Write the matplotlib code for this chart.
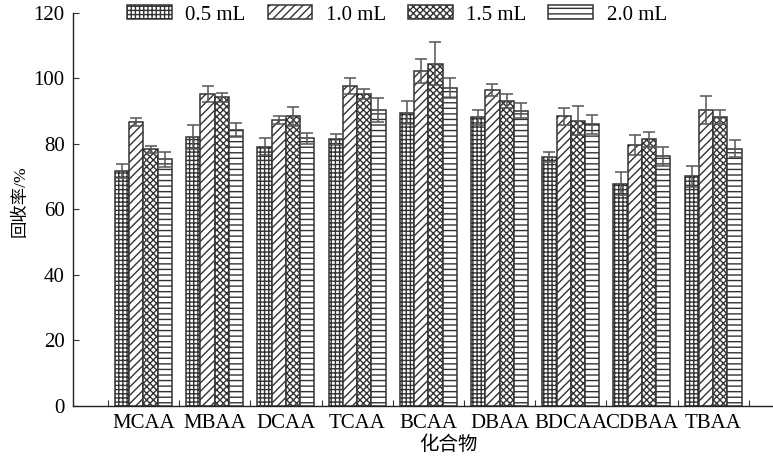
import numpy as np
import matplotlib
matplotlib.use('Agg')
import matplotlib.pyplot as plt
from matplotlib.ticker import FixedLocator

plt.rcParams['font.family'] = ['Liberation Serif', 'Noto Sans CJK SC']
plt.rcParams['hatch.color'] = '#333333'
plt.rcParams['hatch.linewidth'] = 1.0

compounds = ['MCAA', 'MBAA', 'DCAA', 'TCAA', 'BCAA', 'DBAA', 'BDCAA', 'CDBAA', 'TBAA']
volumes = ['0.5 mL', '1.0 mL', '1.5 mL', '2.0 mL']

# recovery (%) per volume, one value per compound
rec_05 = [71.8, 82.1, 79.2, 81.4, 89.6, 88.1, 76.1, 67.8, 70.1]
rec_10 = [86.7, 95.2, 87.4, 97.6, 102.2, 96.5, 88.4, 79.7, 90.4]
rec_15 = [78.4, 94.2, 88.4, 95.2, 104.5, 93.1, 87.1, 81.4, 88.2]
rec_20 = [75.3, 84.2, 81.7, 90.4, 97.2, 90.2, 86.1, 76.3, 78.6]

# standard deviations
err_05 = [2.2, 3.6, 2.7, 1.6, 3.4, 2.4, 1.5, 3.5, 3.2]
err_10 = [1.3, 2.4, 1.2, 2.4, 3.6, 1.9, 2.6, 3.1, 4.2]
err_15 = [1.1, 1.5, 2.9, 1.6, 6.5, 2.1, 4.4, 2.4, 2.1]
err_20 = [2.4, 2.2, 1.8, 3.7, 3.1, 2.4, 2.9, 2.9, 2.7]

values = [rec_05, rec_10, rec_15, rec_20]
errors = [err_05, err_10, err_15, err_20]
hatches = ['++++', '////', 'xxxxx', '---']

fig = plt.figure(figsize=(7.73, 4.59), dpi=100)
ax = fig.add_axes([0.0944, 0.1155, 0.9056, 0.8562])

x = np.arange(len(compounds))
w = 0.2
for i in range(4):
    ax.bar(x + (i - 1.5) * w, values[i], w, yerr=errors[i], color='white',
           edgecolor='#333333', linewidth=1.1, hatch=hatches[i], label=volumes[i],
           error_kw=dict(ecolor='#555555', elinewidth=1.1, capsize=4, capthick=1.1))

ax.set_xlim(-0.99, 8.84)
ax.set_ylim(0, 120)
ax.set_yticks(range(0, 121, 20))
ax.set_xticks(x)
ax.set_xticklabels(compounds)
ax.xaxis.set_minor_locator(FixedLocator(np.arange(-0.5, 9, 1)))
ax.tick_params(axis='x', which='major', length=0, labelsize=15, pad=6)
ax.tick_params(axis='x', which='minor', direction='in', length=4, width=0.8, color='#333333')
ax.tick_params(axis='y', direction='in', length=4, width=0.8, labelsize=15, pad=6, color='#333333')
for s in ['top', 'right']:
    ax.spines[s].set_visible(False)
for s in ['left', 'bottom']:
    ax.spines[s].set_linewidth(1.0)
    ax.spines[s].set_color('#222222')

ax.set_xlabel('化合物', fontsize=14, labelpad=0)
ax.xaxis.set_label_coords(0.536, -0.075)
ax.set_ylabel('回收率/%', fontsize=12.5)
ax.yaxis.set_label_coords(-0.063, 0.52)

fig.legend(loc='center', bbox_to_anchor=(397 / 773, 1 - 15 / 459), ncol=4, frameon=False,
           fontsize=15, handlelength=2.15, handleheight=0.65, handletextpad=0.65,
           columnspacing=1.05)

fig.savefig('out.png', dpi=100)
